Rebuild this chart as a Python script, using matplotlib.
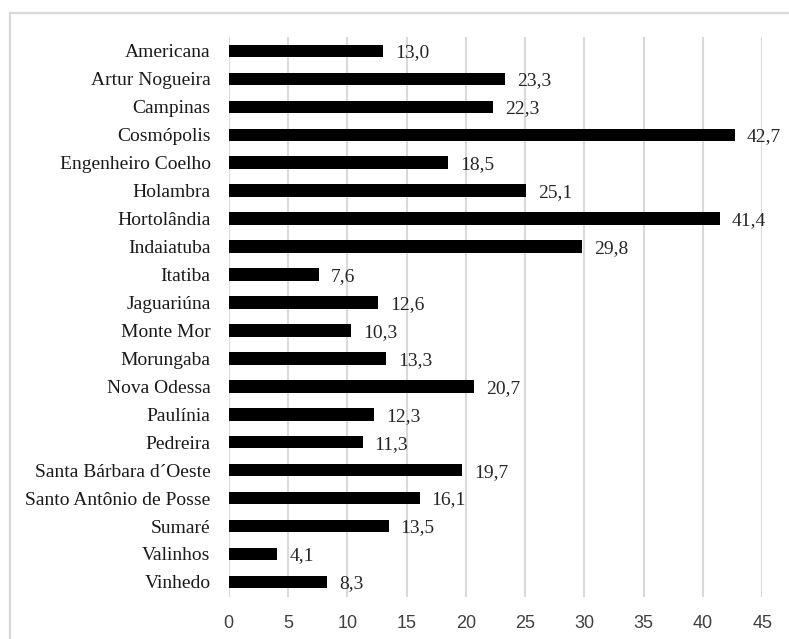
import matplotlib
matplotlib.use("Agg")
import matplotlib.pyplot as plt
from matplotlib.patches import Rectangle

categories = ["Americana", "Artur Nogueira", "Campinas", "Cosmópolis", "Engenheiro Coelho",
              "Holambra", "Hortolândia", "Indaiatuba", "Itatiba", "Jaguariúna", "Monte Mor",
              "Morungaba", "Nova Odessa", "Paulínia", "Pedreira", "Santa Bárbara d´Oeste",
              "Santo Antônio de Posse", "Sumaré", "Valinhos", "Vinhedo"]
values = [13.0, 23.3, 22.3, 42.7, 18.5, 25.1, 41.4, 29.8, 7.6, 12.6, 10.3,
          13.3, 20.7, 12.3, 11.3, 19.7, 16.1, 13.5, 4.1, 8.3]
xticks = [0, 5, 10, 15, 20, 25, 30, 35, 40, 45]

W, H = 789, 639
fig = plt.figure(figsize=(W / 100, H / 100), dpi=100)
fig.patch.set_facecolor("white")

# outer light border (cropped on right and bottom)
fig.patches.append(Rectangle((10 / W, -0.2), 1.2, 1 - 13 / H + 0.2, transform=fig.transFigure,
                             fill=False, edgecolor="#d9d9d9", linewidth=1.6, zorder=0))

ax = fig.add_axes([228.6 / W, 1 - 597 / H, (762.3 - 228.6) / W, (597 - 37) / H])
pos = list(range(len(categories)))
ax.barh(pos, values, height=0.45, color="black", zorder=3)
ax.set_ylim(len(categories) - 0.46, -0.5)
ax.set_xlim(0, 45)
ax.set_xticks(xticks)
ax.set_xticklabels([str(t) for t in xticks], family=["Liberation Sans", "DejaVu Sans"],
                   fontsize=13, color="#404040")
ax.set_yticks(pos)
ax.set_yticklabels(categories, family=["Liberation Serif", "DejaVu Serif"], fontsize=14, color="#1a1a1a")
ax.tick_params(axis="both", length=0)
ax.tick_params(axis="y", pad=13)
ax.tick_params(axis="x", pad=13)
for s in ax.spines.values():
    s.set_visible(False)
ax.grid(axis="x", color="#d9d9d9", linewidth=1.5, zorder=0)
ax.set_axisbelow(True)

for p, v in zip(pos, values):
    ax.annotate(f"{v:.1f}".replace(".", ","), xy=(v, p), xytext=(12, -2),
                textcoords="offset pixels", va="center", ha="left",
                family=["Liberation Serif", "DejaVu Serif"], fontsize=14, color="#262626")

fig.savefig("out.png", dpi=100)
